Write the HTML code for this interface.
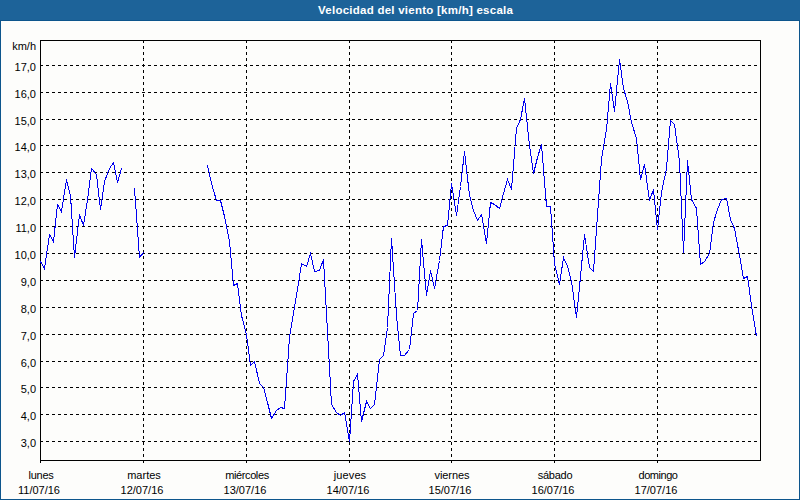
<!DOCTYPE html>
<html><head><meta charset="utf-8"><title>Velocidad del viento</title>
<style>
html,body{margin:0;padding:0;}
body{width:800px;height:500px;overflow:hidden;background:#fdfdfb;font-family:"Liberation Sans",sans-serif;position:relative;}
#bar{position:absolute;left:0;top:0;width:800px;height:20px;background:#1d6399;}
#win{position:absolute;left:0;top:20px;width:798px;height:478px;border:1px solid #0d558c;background:#fdfdfb;}
#title{position:absolute;left:318px;top:3px;height:14px;line-height:14px;font-size:11.5px;font-weight:bold;color:#fff;white-space:nowrap;letter-spacing:0.25px;}
.yl{position:absolute;left:0;width:36px;text-align:right;font-size:11px;line-height:12px;height:12px;color:#000;}
.xl{position:absolute;width:80px;text-align:center;font-size:11px;line-height:12px;height:12px;color:#000;white-space:nowrap;}
svg{position:absolute;left:0;top:0;}
</style></head><body>
<div id="bar"></div>
<div id="win"></div>
<div id="title">Velocidad del viento [km/h] escala</div>

<svg width="800" height="500" viewBox="0 0 800 500" shape-rendering="crispEdges">
<line x1="40" y1="441.5" x2="760" y2="441.5" stroke="#000" stroke-width="1" stroke-dasharray="3,3"/>
<line x1="40" y1="414.5" x2="760" y2="414.5" stroke="#000" stroke-width="1" stroke-dasharray="3,3"/>
<line x1="40" y1="387.5" x2="760" y2="387.5" stroke="#000" stroke-width="1" stroke-dasharray="3,3"/>
<line x1="40" y1="361.5" x2="760" y2="361.5" stroke="#000" stroke-width="1" stroke-dasharray="3,3"/>
<line x1="40" y1="334.5" x2="760" y2="334.5" stroke="#000" stroke-width="1" stroke-dasharray="3,3"/>
<line x1="40" y1="307.5" x2="760" y2="307.5" stroke="#000" stroke-width="1" stroke-dasharray="3,3"/>
<line x1="40" y1="280.5" x2="760" y2="280.5" stroke="#000" stroke-width="1" stroke-dasharray="3,3"/>
<line x1="40" y1="253.5" x2="760" y2="253.5" stroke="#000" stroke-width="1" stroke-dasharray="3,3"/>
<line x1="40" y1="226.5" x2="760" y2="226.5" stroke="#000" stroke-width="1" stroke-dasharray="3,3"/>
<line x1="40" y1="199.5" x2="760" y2="199.5" stroke="#000" stroke-width="1" stroke-dasharray="3,3"/>
<line x1="40" y1="172.5" x2="760" y2="172.5" stroke="#000" stroke-width="1" stroke-dasharray="3,3"/>
<line x1="40" y1="145.5" x2="760" y2="145.5" stroke="#000" stroke-width="1" stroke-dasharray="3,3"/>
<line x1="40" y1="119.5" x2="760" y2="119.5" stroke="#000" stroke-width="1" stroke-dasharray="3,3"/>
<line x1="40" y1="92.5" x2="760" y2="92.5" stroke="#000" stroke-width="1" stroke-dasharray="3,3"/>
<line x1="40" y1="65.5" x2="760" y2="65.5" stroke="#000" stroke-width="1" stroke-dasharray="3,3"/>
<line x1="143.5" y1="460" x2="143.5" y2="463" stroke="#000" stroke-width="1"/>
<line x1="143.5" y1="40" x2="143.5" y2="460" stroke="#000" stroke-width="1" stroke-dasharray="3,3"/>
<line x1="246.5" y1="460" x2="246.5" y2="463" stroke="#000" stroke-width="1"/>
<line x1="246.5" y1="40" x2="246.5" y2="460" stroke="#000" stroke-width="1" stroke-dasharray="3,3"/>
<line x1="349.5" y1="460" x2="349.5" y2="463" stroke="#000" stroke-width="1"/>
<line x1="349.5" y1="40" x2="349.5" y2="460" stroke="#000" stroke-width="1" stroke-dasharray="3,3"/>
<line x1="451.5" y1="460" x2="451.5" y2="463" stroke="#000" stroke-width="1"/>
<line x1="451.5" y1="40" x2="451.5" y2="460" stroke="#000" stroke-width="1" stroke-dasharray="3,3"/>
<line x1="554.5" y1="460" x2="554.5" y2="463" stroke="#000" stroke-width="1"/>
<line x1="554.5" y1="40" x2="554.5" y2="460" stroke="#000" stroke-width="1" stroke-dasharray="3,3"/>
<line x1="657.5" y1="460" x2="657.5" y2="463" stroke="#000" stroke-width="1"/>
<line x1="657.5" y1="40" x2="657.5" y2="460" stroke="#000" stroke-width="1" stroke-dasharray="3,3"/>
<line x1="40.5" y1="460" x2="40.5" y2="463" stroke="#000" stroke-width="1"/>
<rect x="40.5" y="40.5" width="720" height="420" fill="none" stroke="#000" stroke-width="1"/>
<polyline points="40.5,261.5 44.5,268.5 49.5,234.5 53.5,241.5 57.5,204.5 61.5,211.5 66.5,179.5 70.5,195.5 74.5,257.5 79.5,214.5 83.5,225.5 87.5,199.5 91.5,168.5 96.5,174.5 100.5,209.5 104.5,181.5 109.5,168.5 113.5,162.5 117.5,182.5 121.5,168.5" fill="none" stroke="#0000f0" stroke-width="1"/>
<polyline points="134.5,188.5 139.5,257.5 143.5,252.5" fill="none" stroke="#0000f0" stroke-width="1"/>
<polyline points="207.5,165.5 211.5,183.5 216.5,200.5 220.5,200.5 224.5,216.5 229.5,241.5 233.5,285.5 237.5,283.5 241.5,315.5 246.5,334.5 250.5,365.5 254.5,361.5 259.5,383.5 263.5,387.5 267.5,402.5 271.5,418.5 276.5,410.5 280.5,407.5 284.5,408.5 289.5,337.5 293.5,313.5 297.5,289.5 301.5,263.5 306.5,266.5 310.5,253.5 314.5,271.5 319.5,270.5 323.5,259.5 327.5,331.5 331.5,404.5 336.5,412.5 340.5,415.5 344.5,412.5 349.5,441.5 353.5,381.5 357.5,374.5 361.5,421.5 366.5,401.5 370.5,408.5 374.5,404.5 379.5,359.5 383.5,355.5 387.5,327.5 391.5,238.5 396.5,315.5 400.5,355.5 404.5,355.5 409.5,349.5 413.5,313.5 417.5,310.5 421.5,239.5 426.5,295.5 430.5,270.5 434.5,288.5 439.5,260.5 443.5,226.5 447.5,225.5 451.5,183.5 456.5,215.5 460.5,186.5 464.5,151.5 469.5,195.5 473.5,210.5 477.5,220.5 481.5,214.5 486.5,243.5 490.5,202.5 494.5,204.5 499.5,208.5 503.5,193.5 507.5,179.5 511.5,189.5 516.5,128.5 520.5,119.5 524.5,98.5 529.5,145.5 533.5,173.5 537.5,157.5 541.5,144.5 546.5,206.5 550.5,206.5 554.5,263.5 559.5,284.5 563.5,257.5 567.5,266.5 571.5,281.5 576.5,317.5 580.5,276.5 584.5,234.5 589.5,267.5 593.5,271.5 597.5,215.5 601.5,159.5 606.5,129.5 610.5,83.5 614.5,111.5 619.5,59.5 623.5,88.5 627.5,101.5 631.5,122.5 636.5,138.5 640.5,179.5 644.5,164.5 649.5,200.5 653.5,189.5 657.5,229.5 661.5,192.5 666.5,168.5 670.5,120.5 674.5,124.5 679.5,161.5 683.5,252.5 687.5,160.5 691.5,199.5 696.5,208.5 700.5,264.5 704.5,261.5 709.5,253.5 713.5,222.5 717.5,209.5 721.5,199.5 726.5,198.5 730.5,219.5 734.5,228.5 739.5,255.5 743.5,278.5 747.5,276.5 751.5,305.5 756.5,336.5" fill="none" stroke="#0000f0" stroke-width="1"/>
</svg>
<div class="yl" style="top:40px">km/h</div>
<div class="yl" style="top:437px">3,0</div>
<div class="yl" style="top:410px">4,0</div>
<div class="yl" style="top:383px">5,0</div>
<div class="yl" style="top:357px">6,0</div>
<div class="yl" style="top:330px">7,0</div>
<div class="yl" style="top:303px">8,0</div>
<div class="yl" style="top:276px">9,0</div>
<div class="yl" style="top:249px">10,0</div>
<div class="yl" style="top:222px">11,0</div>
<div class="yl" style="top:195px">12,0</div>
<div class="yl" style="top:168px">13,0</div>
<div class="yl" style="top:141px">14,0</div>
<div class="yl" style="top:115px">15,0</div>
<div class="yl" style="top:88px">16,0</div>
<div class="yl" style="top:61px">17,0</div>
<div class="xl" style="left:1px;top:469px;letter-spacing:-0.26px">lunes</div>
<div class="xl" style="left:-1px;top:484px">11/07/16</div>
<div class="xl" style="left:104px;top:469px;letter-spacing:0px">martes</div>
<div class="xl" style="left:102px;top:484px">12/07/16</div>
<div class="xl" style="left:207px;top:469px;letter-spacing:-0.4px">miércoles</div>
<div class="xl" style="left:205px;top:484px">13/07/16</div>
<div class="xl" style="left:310px;top:469px;letter-spacing:0.1px">jueves</div>
<div class="xl" style="left:308px;top:484px">14/07/16</div>
<div class="xl" style="left:412px;top:469px;letter-spacing:-0.1px">viernes</div>
<div class="xl" style="left:410px;top:484px">15/07/16</div>
<div class="xl" style="left:515px;top:469px;letter-spacing:-0.23px">sábado</div>
<div class="xl" style="left:513px;top:484px">16/07/16</div>
<div class="xl" style="left:618px;top:469px;letter-spacing:-0.46px">domingo</div>
<div class="xl" style="left:616px;top:484px">17/07/16</div>
</body></html>
